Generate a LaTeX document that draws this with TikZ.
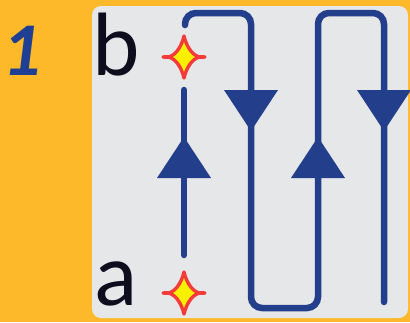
\documentclass[tikz,border=0pt]{standalone}
\usepackage{fontspec}
\setmainfont{Carlito}
\definecolor{bgorange}{HTML}{FDB92A}
\definecolor{panel}{HTML}{E6E7E9}
\definecolor{lineblue}{HTML}{233E8B}
\definecolor{numblue}{HTML}{1F3F94}
\definecolor{txt}{HTML}{0D0D1E}
\definecolor{starred}{HTML}{F53A3A}
\definecolor{staryel}{HTML}{F8F000}
\tikzset{
  wire/.style={draw=lineblue, line width=6.5pt, line cap=round, rounded corners=11pt},
  tri/.style={fill=lineblue},
  starmark/.style={fill=staryel, draw=starred, line width=3.4pt, line join=round},
  lbl/.style={font=\fontsize{90}{90}\selectfont, text=txt, inner sep=0pt, anchor=base}
}
\newcommand{\fourstar}[2]{%
  \path[starmark] (#1,#2) ++(21,0) .. controls +(-11,-2.5) and +(2.5,-11) .. ++(-21,21)
     .. controls +(-2.5,-11) and +(11,-2.5) .. ++(-21,-21)
     .. controls +(11,2.5) and +(-2.5,11) .. ++(21,-21)
     .. controls +(2.5,11) and +(-11,2.5) .. cycle;}
\begin{document}
\begin{tikzpicture}[x=1pt,y=-1pt]
\useasboundingbox (0,0) rectangle (410,322);
\fill[bgorange] (0,0) rectangle (410,322);
\fill[panel, rounded corners=9pt] (92,6) rectangle (408,318);
\node[font=\fontsize{76}{76}\selectfont\bfseries\itshape, text=numblue, inner sep=0pt, anchor=base] (one) at (22,75) {1};
\node[lbl] (lb) at (116,75) {b};
\node[lbl] (la) at (116,305) {a};
\fourstar{184}{57}
\fourstar{184}{293}
\coordinate (s1) at (184,255);
\coordinate (e1) at (184,90);
\draw[wire] (s1) -- (e1);
\fill[tri] (157,178) -- (211,178) -- (184,137) -- cycle;
\coordinate (p0) at (185,25);
\coordinate (p1) at (185,13);
\coordinate (p2) at (251,13);
\coordinate (p3) at (251,308);
\coordinate (p4) at (318,308);
\coordinate (p5) at (318,13);
\coordinate (p6) at (384,13);
\coordinate (p7) at (384,302);
\draw[wire] (p0) -- (p1) -- (p2) -- (p3) -- (p4) -- (p5) -- (p6) -- (p7);
\fill[tri] (224,90) -- (278,90) -- (251,131) -- cycle;
\fill[tri] (291,178) -- (345,178) -- (318,137) -- cycle;
\fill[tri] (357,90) -- (411,90) -- (384,131) -- cycle;
\end{tikzpicture}
\end{document}
